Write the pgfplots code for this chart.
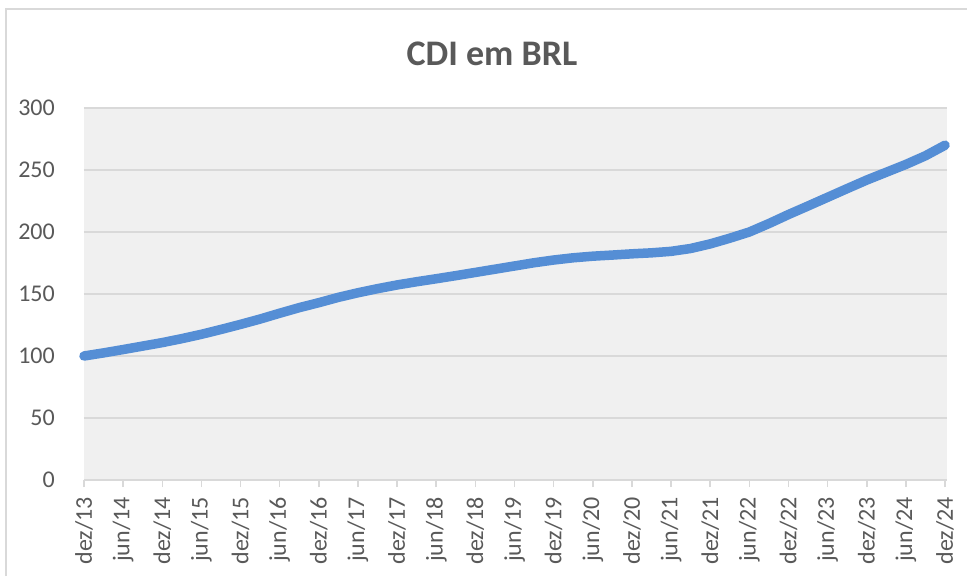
\documentclass[border=0pt]{standalone}
\usepackage{fontspec}
\setmainfont{Carlito}
\usepackage{pgfplots}
\pgfplotsset{compat=1.18}
\definecolor{txt}{HTML}{595959}
\definecolor{gridc}{HTML}{D9D9D9}
\definecolor{plotbg}{HTML}{F0F0F0}
\definecolor{cdi}{HTML}{558ED5}
\pgfplotstableread{
m v
0 100.0
3 102.5
6 105.2
9 108.0
12 110.8
15 114.0
18 117.5
21 121.4
24 125.5
27 129.8
30 134.5
33 139.0
36 143.0
39 147.3
42 151.0
45 154.3
48 157.3
51 159.9
54 162.3
57 164.8
60 167.4
63 170.0
66 172.6
69 175.2
72 177.4
75 179.2
78 180.5
81 181.4
84 182.4
87 183.2
90 184.4
93 186.7
96 190.4
99 195.0
102 200.0
105 206.8
108 214.1
111 221.0
114 228.0
117 235.0
120 241.9
123 248.2
126 254.5
129 261.5
132 270.0
}\cdidata
\begin{document}
\begin{tikzpicture}[x=1pt,y=1pt]
\useasboundingbox (0,0) rectangle (967,576);
\draw[gridc, line width=1.5pt] (6,0) -- (6,567) -- (967,567);
\node[txt, font=\bfseries\fontsize{36}{42}\selectfont] at (492,522) {CDI em BRL};
\begin{axis}[
  at={(84pt,96pt)}, anchor=south west, scale only axis,
  width=863pt, height=372pt,
  xmin=0, xmax=132.3, ymin=0, ymax=300,
  axis background/.style={fill=plotbg},
  axis x line*=bottom, axis y line*=left,
  x axis line style={gridc, line width=2pt},
  y axis line style={draw=none},
  ytick={0,50,...,300},
  ymajorgrids,
  grid style={gridc, line width=1.5pt},
  ytick style={draw=none},
  xtick={0,6,...,132},
  xticklabels={dez/13,jun/14,dez/14,jun/15,dez/15,jun/16,dez/16,jun/17,dez/17,jun/18,dez/18,jun/19,dez/19,jun/20,dez/20,jun/21,dez/21,jun/22,dez/22,jun/23,dez/23,jun/24,dez/24},
  xtick style={gridc, line width=1.5pt},
  tick align=outside,
  major tick length=7pt,
  ticklabel style={txt, font=\fontsize{24}{28}\selectfont},
  /pgf/number format/assume math mode=true,
  yticklabel style={inner sep=0pt},
  yticklabel shift=22pt,
  xticklabel style={rotate=90, anchor=east, inner sep=0pt},
  xticklabel shift=10pt,
  clip=false,
]
\addplot[cdi, line width=9.5pt, line cap=round, line join=round] table[x=m, y=v] {\cdidata};
\end{axis}
\end{tikzpicture}
\end{document}
